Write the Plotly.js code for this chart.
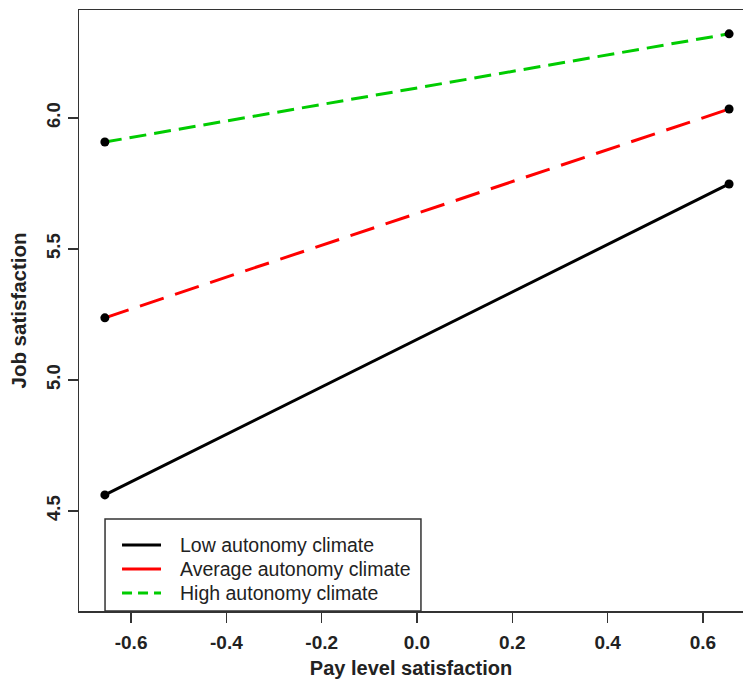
<!DOCTYPE html>
<html>
<head>
<meta charset="utf-8">
<script src="https://cdn.plot.ly/plotly-3.0.1.min.js"></script>
<style>html,body{margin:0;padding:0;background:#fff;}#chart{width:743px;height:682px;}</style>
</head>
<body>
<div id="chart"></div>
<script>
const payLevel = [-0.655, 0.655];
const seriesNames = ["Low autonomy climate", "Average autonomy climate", "High autonomy climate"];
const lowValues = [4.561, 5.748];
const averageValues = [5.237, 6.034];
const highValues = [5.908, 6.321];
const xTicks = [-0.6, -0.4, -0.2, 0.0, 0.2, 0.4, 0.6];
const xTickLabels = ["-0.6", "-0.4", "-0.2", "0.0", "0.2", "0.4", "0.6"];
const yTicks = [4.5, 5.0, 5.5, 6.0];
const yTickLabels = ["4.5", "5.0", "5.5", "6.0"];

const allValues = [lowValues, averageValues, highValues];
const colors = ["#000000", "#ff0000", "#00cc00"];
const dashes = ["solid", "25px,12px", "17px,8px"];

const traces = [];
allValues.forEach((vals, i) => {
  traces.push({
    x: payLevel, y: vals, name: seriesNames[i], type: "scatter", mode: "lines",
    line: {color: colors[i], width: 3, dash: dashes[i]}, showlegend: false
  });
});
allValues.forEach((vals) => {
  traces.push({
    x: payLevel, y: vals, type: "scatter", mode: "markers",
    marker: {color: "#000", size: 9}, showlegend: false, hoverinfo: "skip"
  });
});

const font = "Liberation Sans, Arial, sans-serif";

// legend drawn as box + samples + labels (paper coordinates of the plot area)
const legendRowsY = [0.1098, 0.0699, 0.0300];
const shapes = [{
  type: "rect", xref: "paper", yref: "paper",
  x0: 0.0392, x1: 0.515, y0: 0, y1: 0.153,
  line: {color: "#333", width: 1.5}, fillcolor: "rgba(0,0,0,0)", layer: "above"
}];
const annotations = [];
seriesNames.forEach((name, i) => {
  shapes.push({
    type: "line", xref: "paper", yref: "paper",
    x0: 0.0648, x1: 0.1235, y0: legendRowsY[i], y1: legendRowsY[i],
    line: {color: colors[i], width: 3, dash: i === 2 ? "10px,6px" : "solid"}
  });
  annotations.push({
    xref: "paper", yref: "paper", x: 0.1491, y: legendRowsY[i],
    xanchor: "left", yanchor: "middle", showarrow: false, text: name,
    font: {family: font, size: 19.5, color: "#222"}
  });
});

const layout = {
  width: 743, height: 682,
  margin: {l: 79, r: 0, t: 10, b: 71},
  paper_bgcolor: "#fff", plot_bgcolor: "#fff",
  font: {family: font, color: "#222"},
  showlegend: false,
  xaxis: {
    range: [-0.7093, 0.6842], tickvals: xTicks, ticktext: xTickLabels,
    showgrid: false, zeroline: false, showline: true, mirror: true,
    linecolor: "#333", linewidth: 1.5, ticks: "outside", ticklen: 10, tickwidth: 1.5, tickcolor: "#333",
    ticklabelstandoff: 4,
    tickfont: {family: font, size: 19, weight: "bold", color: "#222"},
    title: {text: "Pay level satisfaction", font: {family: font, size: 20, weight: "bold", color: "#222"}, standoff: 8}
  },
  yaxis: {
    range: [4.118, 6.412], tickvals: yTicks, ticktext: yTickLabels, tickangle: -90,
    showgrid: false, zeroline: false, showline: true, mirror: false,
    linecolor: "#333", linewidth: 1.5, ticks: "outside", ticklen: 10, tickwidth: 1.5, tickcolor: "#333",
    tickfont: {family: font, size: 18.5, weight: "bold", color: "#222"},
    title: {text: "Job satisfaction", font: {family: font, size: 20.5, weight: "bold", color: "#222"}, standoff: 11}
  },
  shapes: shapes,
  annotations: annotations
};

Plotly.newPlot("chart", traces, layout, {displayModeBar: false, staticPlot: true});
</script>
</body>
</html>
